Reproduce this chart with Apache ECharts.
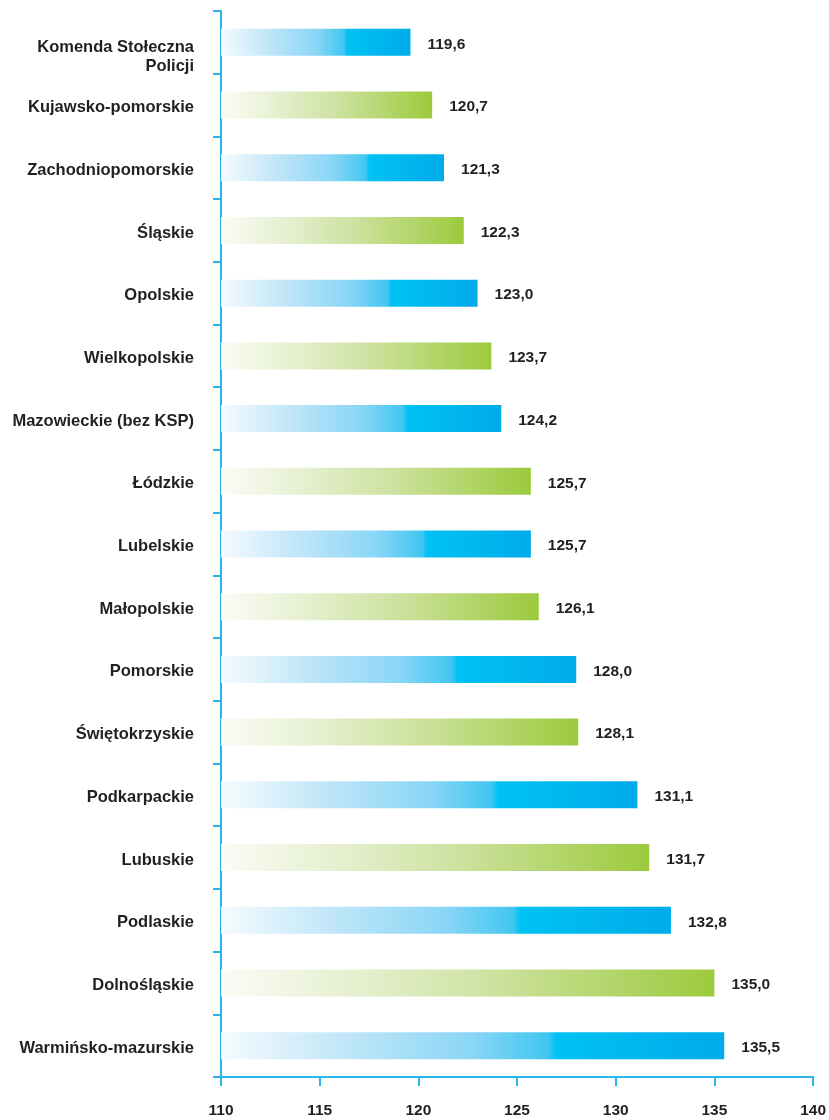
<!DOCTYPE html>
<html>
<head>
<meta charset="utf-8">
<script src="https://cdn.jsdelivr.net/npm/echarts@6/dist/echarts.min.js"></script>
<style>
html,body{margin:0;padding:0;background:#fff;}
#chart{width:829px;height:1120px;}
</style>
</head>
<body>
<div id="chart"></div>
<script>
const categories = [
  'Komenda Stołeczna\nPolicji',
  'Kujawsko-pomorskie',
  'Zachodniopomorskie',
  'Śląskie',
  'Opolskie',
  'Wielkopolskie',
  'Mazowieckie (bez KSP)',
  'Łódzkie',
  'Lubelskie',
  'Małopolskie',
  'Pomorskie',
  'Świętokrzyskie',
  'Podkarpackie',
  'Lubuskie',
  'Podlaskie',
  'Dolnośląskie',
  'Warmińsko-mazurskie'
];
const values = [119.6, 120.7, 121.3, 122.3, 123.0, 123.7, 124.2, 125.7, 125.7, 126.1, 128.0, 128.1, 131.1, 131.7, 132.8, 135.0, 135.5];
const xTicks = [110, 115, 120, 125, 130, 135, 140];

const blueGrad = new echarts.graphic.LinearGradient(0, 0, 1, 0, [
  {offset: 0, color: '#f5fbfe'},
  {offset: 0.25, color: '#c0e6f8'},
  {offset: 0.5, color: '#8ad6f6'},
  {offset: 0.65, color: '#40c6f1'},
  {offset: 0.665, color: '#00c2f3'},
  {offset: 1, color: '#00abea'}
]);
const greenGrad = new echarts.graphic.LinearGradient(0, 0, 1, 0, [
  {offset: 0, color: '#fbfcf6'},
  {offset: 0.3, color: '#e3eecb'},
  {offset: 0.55, color: '#cde2a0'},
  {offset: 1, color: '#9cca3c'}
]);

const axisColor = '#29b5e8';
const textColor = '#231f20';
const font = "'Liberation Sans', Arial, sans-serif";
const catStyle = {color: textColor, fontSize: 16.5, fontFamily: font, fontWeight: 'bold', lineHeight: 19, align: 'right'};

const chart = echarts.init(document.getElementById('chart'), null, {renderer: 'canvas'});
chart.setOption({
  animation: false,
  backgroundColor: '#ffffff',
  grid: {left: 221, right: 15, top: 11, bottom: 43, containLabel: false},
  xAxis: {
    type: 'value',
    min: xTicks[0],
    max: xTicks[xTicks.length - 1],
    interval: 5,
    axisLine: {show: true, lineStyle: {color: axisColor, width: 2}},
    axisTick: {show: true, length: 9, lineStyle: {color: axisColor, width: 2}},
    splitLine: {show: false},
    axisLabel: {color: textColor, fontSize: 15.5, fontFamily: font, fontWeight: 'bold', margin: 26,
      formatter: v => xTicks.includes(v) ? String(v) : ''}
  },
  yAxis: {
    type: 'category',
    inverse: true,
    data: categories,
    axisLine: {show: true, lineStyle: {color: axisColor, width: 2}},
    axisTick: {show: true, length: 8, lineStyle: {color: axisColor, width: 2}},
    axisLabel: {
      color: textColor, fontSize: 16.5, fontFamily: font, fontWeight: 'bold', margin: 27, align: 'right', lineHeight: 19,
      formatter: (v) => {
        const lines = v.split('\n');
        const body = lines.map(l => '{c|' + l + '}').join('\n');
        return lines.length > 1 ? '{s| }\n' + body : '{o|' + v + '}';
      },
      rich: {
        s: Object.assign({}, catStyle, {lineHeight: 29, fontSize: 6}),
        c: catStyle,
        o: Object.assign({}, catStyle, {padding: [5, 0, 0, 0]})
      }
    }
  },
  series: [{
    type: 'bar',
    data: values.map((v, i) => ({value: v, itemStyle: {color: i % 2 === 0 ? blueGrad : greenGrad}})),
    barWidth: 27,
    label: {
      show: true,
      position: 'right',
      distance: 17,
      offset: [0, 2],
      color: textColor,
      fontSize: 15.5,
      fontFamily: font,
      fontWeight: 'bold',
      formatter: p => p.value.toFixed(1).replace('.', ',')
    }
  }]
});
</script>
</body>
</html>
